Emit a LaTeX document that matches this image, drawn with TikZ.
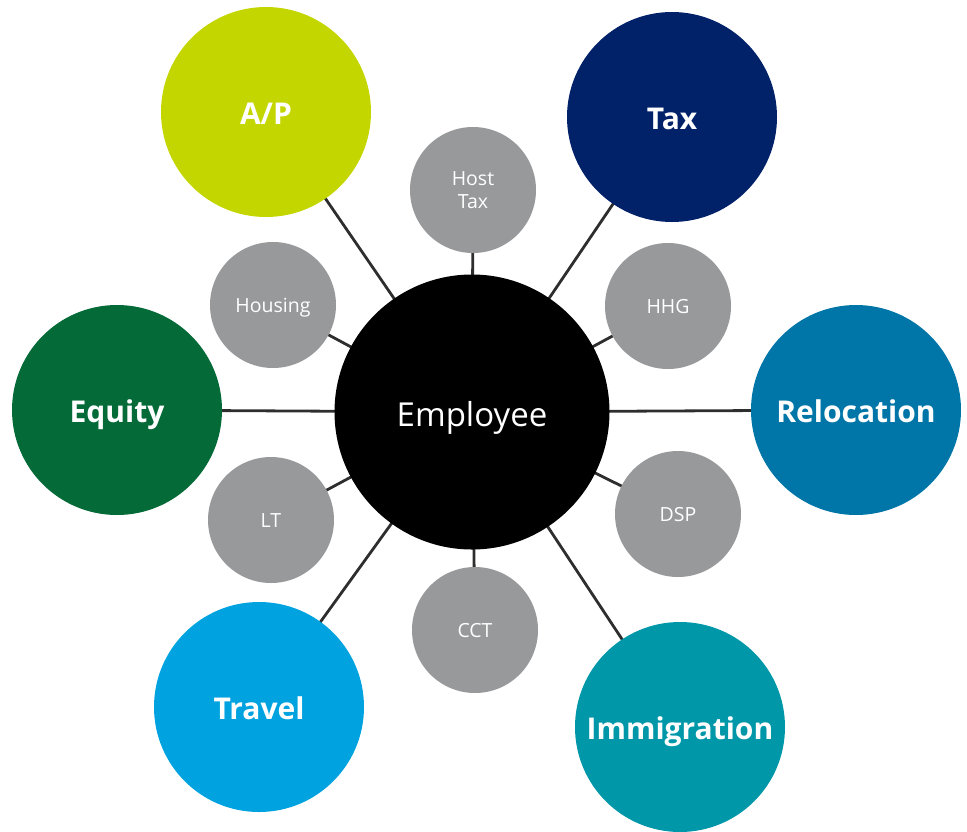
\documentclass[tikz,border=0pt]{standalone}
\usepackage{fontspec}
\setmainfont{Open Sans}
\usetikzlibrary{backgrounds}
\definecolor{apgreen}{HTML}{C4D600}
\definecolor{taxnavy}{HTML}{012169}
\definecolor{equitygreen}{HTML}{046A38}
\definecolor{relblue}{HTML}{0076A8}
\definecolor{travelblue}{HTML}{00A3E0}
\definecolor{immteal}{HTML}{0097A9}
\definecolor{hubgray}{HTML}{97999B}
\definecolor{linkgray}{HTML}{2E2E2E}
\begin{document}
\begin{tikzpicture}[x=1pt,y=-1pt,
  bigcircle/.style={circle,minimum size=210pt,inner sep=0pt,text=white,
    text height=24pt,text depth=0pt,
    font=\fontsize{30}{30}\selectfont\bfseries},
  smallcircle/.style={circle,fill=hubgray,minimum size=126pt,inner sep=0pt,
    text=white,align=center,font=\fontsize{19.5}{23}\selectfont},
  oneline/.style={text height=14pt,text depth=0pt},
  link/.style={draw=linkgray,line width=2.8pt}]
\useasboundingbox (0,0) rectangle (967,831);

% hub
\node[circle,fill=black,minimum size=275pt,inner sep=0pt,text=white,
  text height=28pt,text depth=0pt,
  font=\fontsize{33}{33}\selectfont] (emp) at (472,412) {Employee};

% outer service circles
\node[bigcircle,fill=apgreen]     (ap)  at (266,112) {A/P};
\node[bigcircle,fill=taxnavy]     (tax) at (672,117) {Tax};
\node[bigcircle,fill=equitygreen] (eq)  at (117,410) {Equity};
\node[bigcircle,fill=relblue]     (rel) at (856,410) {Relocation};
\node[bigcircle,fill=travelblue]  (trv) at (259,707) {Travel};
\node[bigcircle,fill=immteal]     (imm) at (680,727) {Immigration};

% inner gray circles
\node[smallcircle] (host) at (473,190) {Host\\Tax};
\node[smallcircle,oneline] (hhg)  at (668,306) {HHG};
\node[smallcircle,oneline] (hous) at (273,305) {Housing};
\node[smallcircle,oneline] (lt)   at (271,520) {LT};
\node[smallcircle,oneline] (dsp)  at (678,514) {DSP};
\node[smallcircle,oneline] (cct)  at (475,630) {CCT};

% spokes from the hub, kept behind the circles
\begin{scope}[on background layer]
  \foreach \n in {ap,tax,eq,rel,trv,imm,host,hhg,hous,lt,dsp,cct}
    \draw[link] (emp.center) -- (\n.center);
\end{scope}
\end{tikzpicture}
\end{document}
